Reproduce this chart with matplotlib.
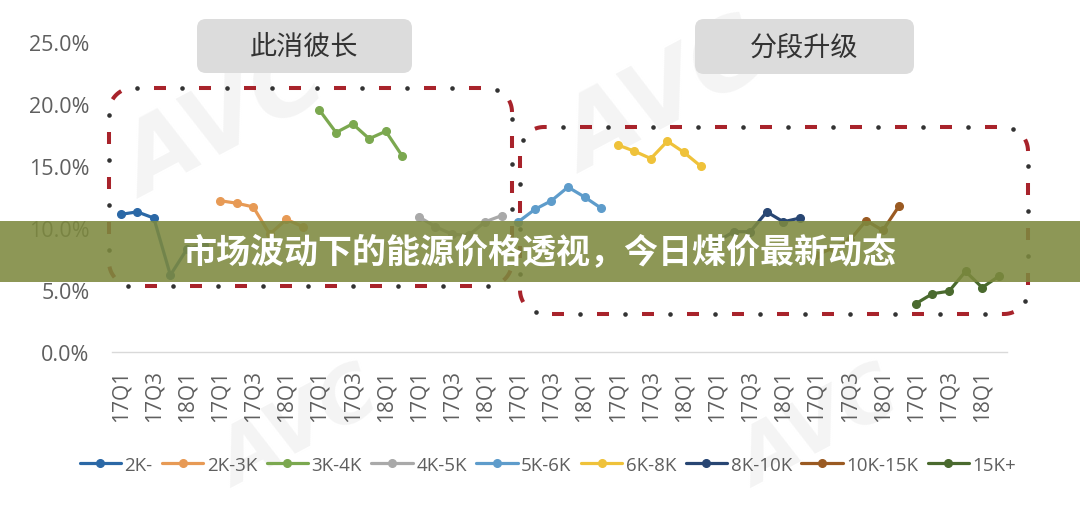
import numpy as np
import matplotlib
matplotlib.use('Agg')
import matplotlib.pyplot as plt
from matplotlib.patches import FancyBboxPatch, Rectangle
from matplotlib.lines import Line2D
from matplotlib.collections import LineCollection
from matplotlib.transforms import IdentityTransform

# ---------------- data ----------------
quarters = ['17Q1', '17Q2', '17Q3', '17Q4', '18Q1', '18Q2']
shown_quarters = ['17Q1', '17Q3', '18Q1']
segments = ['2K-', '2K-3K', '3K-4K', '4K-5K', '5K-6K', '6K-8K', '8K-10K', '10K-15K', '15K+']

share_2k = [11.1, 11.3, 10.8, 6.2, 8.3, 8.6]
share_2k_3k = [12.2, 12.0, 11.7, 9.5, 10.7, 10.1]
share_3k_4k = [19.5, 17.7, 18.4, 17.2, 17.8, 15.8]
share_4k_5k = [10.9, 10.1, 9.5, 9.4, 10.5, 11.0]
share_5k_6k = [10.5, 11.5, 12.2, 13.3, 12.5, 11.6]
share_6k_8k = [16.7, 16.2, 15.6, 17.0, 16.1, 15.0]
share_8k_10k = [8.9, 9.7, 9.7, 11.3, 10.5, 10.8]
share_10k_15k = [7.8, 8.4, 9.0, 10.6, 9.8, 11.8]
share_15k = [3.9, 4.7, 4.9, 6.5, 5.2, 6.1]

series = [share_2k, share_2k_3k, share_3k_4k, share_4k_5k, share_5k_6k,
          share_6k_8k, share_8k_10k, share_10k_15k, share_15k]
colors = ['#2B68A6', '#E79A55', '#7BA84F', '#A9A9A9', '#5E9CCB',
          '#EFC23A', '#284673', '#9A5A22', '#4A6A2E']

y_ticks = [0, 5, 10, 15, 20, 25]
group_titles = ['此消彼长', '分段升级']
banner_text = '市场波动下的能源价格透视，今日煤价最新动态'

# ---------------- figure ----------------
W, H = 1080, 506
fig = plt.figure(figsize=(W / 100, H / 100), dpi=100)
fig.patch.set_facecolor('white')
ident = IdentityTransform()

# faint watermarks (background)
for (wx, wy, fs) in [(225, 125, 70), (665, 100, 70), (300, 430, 55), (820, 430, 55)]:
    fig.text(wx / W, 1 - wy / H, 'AVC', fontsize=fs, fontweight='bold', style='italic',
             color='#F4F4F4', rotation=28, ha='center', va='center', zorder=-1,
             family='DejaVu Sans')

ax_left, ax_right, ax_top, ax_bottom = 112.4, 1007.0, 43.0, 353.0
ax = fig.add_axes([ax_left / W, 1 - ax_bottom / H,
                   (ax_right - ax_left) / W, (ax_bottom - ax_top) / H])
ax.set_facecolor('none')

n_q = len(quarters)
for g, (seg, vals, col) in enumerate(zip(segments, series, colors)):
    x = g * n_q + np.arange(n_q)
    ax.plot(x, vals, color=col, lw=2.3, marker='o', ms=5.5, label=seg,
            solid_capstyle='round', solid_joinstyle='round', zorder=3)

ax.set_xlim(-0.5, len(segments) * n_q - 0.5)
ax.set_ylim(0, 25)
ax.set_yticks(y_ticks)
ax.set_yticklabels([f'{v:.1f}%' for v in y_ticks])

tick_pos, tick_lab = [], []
for g in range(len(segments)):
    for i, q in enumerate(quarters):
        if q in shown_quarters:
            tick_pos.append(g * n_q + i)
            tick_lab.append(q)
ax.set_xticks(tick_pos)
ax.set_xticklabels(tick_lab, rotation=90)

for s in ['top', 'right', 'left']:
    ax.spines[s].set_visible(False)
ax.spines['bottom'].set_color('#D9D9D9')
ax.spines['bottom'].set_linewidth(1.0)
ax.tick_params(axis='both', length=0)
ax.tick_params(axis='y', pad=16.5, labelsize=15.5, labelcolor='#5F5F5F')
ax.tick_params(axis='x', pad=12.0, labelsize=15, labelcolor='#5F5F5F')
for lab in ax.get_xticklabels() + ax.get_yticklabels():
    lab.set_fontfamily('Open Sans')

# legend
handles, labels = ax.get_legend_handles_labels()
fig.legend(handles, labels, loc='center', bbox_to_anchor=(548 / W, 1 - 466 / H),
           ncol=9, frameon=False, handlelength=2.2, handletextpad=0.2,
           columnspacing=0.5, labelcolor='#5F5F5F',
           prop={'family': 'Open Sans', 'size': 13.5})


# dashed rounded boxes (image pixel coordinates, y downward) -- decoration
def rounded_outline(x0, y0, x1, y1, r, n=24):
    X0, X1, Y0, Y1 = x0, x1, H - y1, H - y0
    corners = [(X1 - r, Y1 - r, 0, 90), (X0 + r, Y1 - r, 90, 180),
               (X0 + r, Y0 + r, 180, 270), (X1 - r, Y0 + r, 270, 360)]
    xs, ys = [], []
    for cx, cy, a0, a1 in corners:
        t = np.radians(np.linspace(a0, a1, n))
        xs.extend(cx + r * np.cos(t))
        ys.extend(cy + r * np.sin(t))
    xs.append(xs[0])
    ys.append(ys[0])
    return np.array(xs), np.array(ys)


def dashed_box(x0, y0, x1, y1, r, period=45.0, dash=12.0, dot_at=28.5):
    xs, ys = rounded_outline(x0, y0, x1, y1, r)
    cum = np.concatenate([[0], np.cumsum(np.hypot(np.diff(xs), np.diff(ys)))])
    total = cum[-1]
    segs = []
    for start in np.arange(0, total - 2, period):
        s = np.linspace(start, min(start + dash, total), 10)
        segs.append(np.column_stack([np.interp(s, cum, xs), np.interp(s, cum, ys)]))
    red = LineCollection(segs, colors='#A8232B', linewidths=2.9, capstyle='butt',
                         transform=ident, zorder=2)
    fig.add_artist(red)
    sd = np.arange(dot_at, total - 2, period)
    dots = Line2D(np.interp(sd, cum, xs), np.interp(sd, cum, ys), ls='none', marker='o',
                  ms=3.3, mfc='#333333', mec='#333333', mew=0, transform=ident, zorder=2)
    fig.add_artist(dots)


dashed_box(109, 89, 512, 287, 24)
dashed_box(520, 128, 1028, 315, 24)

# grey title boxes
for (bx0, by0, bx1, by1), title in zip([(197, 20, 412, 74), (695, 20, 914, 75)], group_titles):
    box = FancyBboxPatch((bx0, H - by1), bx1 - bx0, by1 - by0,
                         boxstyle='round,pad=0,rounding_size=9', fc='#DCDCDC', ec='none',
                         transform=ident, zorder=2)
    fig.add_artist(box)
    fig.text((bx0 + bx1) / 2 / W, 1 - (by0 + by1) / 2 / H, title, fontsize=19.5,
             color='#333333', ha='center', va='center',
             family=['Noto Sans CJK SC', 'DejaVu Sans'], zorder=3)

# semi-transparent banner
banner = Rectangle((0, H - 283), W, 61, fc='#7D893F', alpha=0.88, ec='none',
                   transform=ident, zorder=5)
fig.add_artist(banner)
fig.text(539 / W, 1 - 253 / H, banner_text, fontsize=24.5, fontweight='bold',
         color='white', ha='center', va='center',
         family=['Noto Sans CJK SC', 'DejaVu Sans'], zorder=6)

fig.savefig('out.png', dpi=100, facecolor='white')
